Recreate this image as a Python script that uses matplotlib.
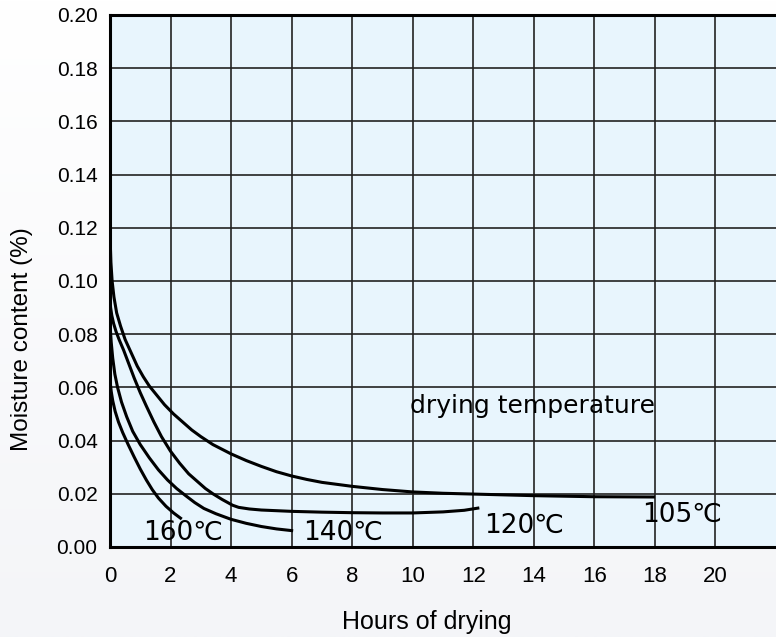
import numpy as np
import matplotlib
matplotlib.use('Agg')
import matplotlib.pyplot as plt

plt.rcParams['font.family'] = ['Liberation Sans', 'DejaVu Sans']

# Moisture content curves (hours, %)
hours_105 = [0, 0.01, 0.03, 0.07, 0.13, 0.22, 0.35, 0.5, 0.7, 0.9, 1.1, 1.3, 1.55, 1.8, 2.1, 2.4, 2.7, 3.0,
             3.4, 4.0, 4.5, 5.0, 5.5, 6.0, 6.5, 7.0, 8.0, 9.0, 10.0, 11.0, 12.0, 14.0, 16.0, 18.0]
moist_105 = [0.120, 0.114, 0.107, 0.100, 0.094, 0.088, 0.083, 0.078, 0.073, 0.068, 0.064, 0.0605, 0.057, 0.0535,
             0.050, 0.047, 0.044, 0.0415, 0.0385, 0.0350, 0.0325, 0.0303, 0.0283, 0.0267, 0.0254, 0.0243,
             0.0228, 0.0216, 0.0207, 0.0202, 0.0199, 0.0193, 0.0189, 0.0188]

hours_120 = [0, 0.02, 0.06, 0.12, 0.2, 0.3, 0.45, 0.6, 0.8, 1.0, 1.2, 1.45, 1.7, 2.0, 2.3, 2.6, 2.9, 3.15,
             3.4, 3.7, 4.05, 4.25, 4.6, 5.0, 6.0, 7.0, 8.0, 9.0, 10.0, 11.0, 11.7, 12.2]
moist_120 = [0.093, 0.090, 0.087, 0.084, 0.081, 0.078, 0.074, 0.0695, 0.0635, 0.058, 0.053, 0.047, 0.0415,
             0.036, 0.0315, 0.0275, 0.0245, 0.022, 0.020, 0.0179, 0.0157, 0.0149, 0.0143, 0.0139, 0.0134,
             0.0131, 0.0129, 0.0128, 0.0128, 0.0132, 0.0138, 0.0147]

hours_140 = [0, 0.01, 0.04, 0.09, 0.16, 0.25, 0.38, 0.55, 0.75, 1.0, 1.3, 1.6, 1.9, 2.2, 2.5, 2.8, 3.1,
             3.5, 4.0, 4.5, 5.0, 5.5, 6.05]
moist_140 = [0.085, 0.082, 0.077, 0.071, 0.065, 0.060, 0.0545, 0.049, 0.0435, 0.0385, 0.0335, 0.029, 0.0252,
             0.022, 0.0193, 0.0167, 0.0145, 0.0125, 0.0104, 0.0089, 0.0077, 0.0068, 0.0061]

hours_160 = [0, 0.01, 0.04, 0.09, 0.17, 0.28, 0.42, 0.6, 0.8, 1.0, 1.2, 1.4, 1.6, 1.85, 2.1, 2.37]
moist_160 = [0.064, 0.0615, 0.0585, 0.055, 0.051, 0.047, 0.043, 0.0385, 0.0338, 0.0293, 0.0252, 0.0215,
             0.0184, 0.0153, 0.0128, 0.0105]

labels = ['105℃', '120℃', '140℃', '160℃']
label_x = [17.57, 12.35, 6.37, 1.09]
label_y = [0.0094, 0.0053, 0.0026, 0.0026]

fig = plt.figure(figsize=(7.76, 6.37), dpi=100)

# faint vertical gradient behind everything
bg = fig.add_axes([0, 0, 1, 1], zorder=-10)
grad = np.linspace(0, 1, 256).reshape(-1, 1)
bg.imshow(grad, aspect='auto', cmap=matplotlib.colors.LinearSegmentedColormap.from_list('bg', ['#ffffff', '#f4f5f8']),
          extent=[0, 1, 0, 1], origin='upper')
bg.axis('off')

ax = fig.add_axes([110 / 776, 90 / 637, 666 / 776, 532 / 637])
ax.set_facecolor('#e8f5fd')

for hx, my in [(hours_105, moist_105), (hours_120, moist_120), (hours_140, moist_140), (hours_160, moist_160)]:
    ax.plot(hx, my, color='black', lw=2.2, solid_capstyle='butt', solid_joinstyle='round', zorder=3)

for txt, x, y in zip(labels, label_x, label_y):
    ax.text(x, y, txt, fontsize=19, family='DejaVu Sans', va='baseline', ha='left', zorder=4)
ax.text(9.9, 0.0504, 'drying temperature', fontsize=18, family='DejaVu Sans', va='baseline', ha='left', zorder=4)

ax.set_xlim(0, 22)
ax.set_ylim(0, 0.20)
ax.set_xticks(np.arange(0, 22, 2))
ax.set_yticks(np.arange(0, 0.201, 0.02))
ax.set_yticklabels([f'{v:.2f}' for v in np.arange(0, 0.201, 0.02)])
ax.grid(True, color='#222222', lw=1.2, zorder=1)
ax.set_axisbelow(True)
ax.tick_params(length=0)
ax.tick_params(axis='x', labelsize=16, pad=14)
ax.tick_params(axis='y', labelsize=15, pad=9)
for side in ['left', 'bottom', 'top']:
    ax.spines[side].set_linewidth(2.2)
ax.spines['right'].set_visible(False)

ax.set_xlabel('Hours of drying', fontsize=18)
ax.set_ylabel('Moisture content (%)', fontsize=17.5)
ax.xaxis.set_label_coords(0.476, -0.118)
ax.yaxis.set_label_coords(-0.116, 0.39)

fig.savefig('out.png', dpi=100)
